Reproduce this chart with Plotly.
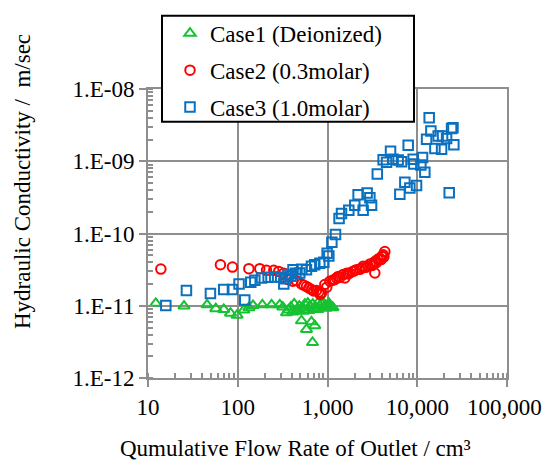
import plotly.graph_objects as go

# Case1 (Deionized)
case1_flow = [12.2, 25.2, 45.5, 56.9, 69.8, 83, 98.3, 117, 133, 148, 188, 238, 294, 318,
              349, 366, 390, 425, 455, 485, 513, 531, 559, 583, 603, 635, 663, 681, 686,
              721, 741, 780, 821, 865, 910, 958, 1009, 1062, 1118, 780, 700, 620, 540,
              470, 410, 880, 1040, 960, 1150]
case1_k = [1.08e-11, 0.99e-11, 1.03e-11, 9.1e-12, 8.9e-12, 7.9e-12, 7.4e-12, 8.7e-12,
           9.4e-12, 1.01e-11, 1.03e-11, 1.03e-11, 1.03e-11, 9.6e-12, 8.0e-12, 8.7e-12,
           9.6e-12, 1.06e-11, 8.5e-12, 9.9e-12, 6.2e-12, 9.3e-12, 1.05e-11, 4.7e-12,
           1.09e-11, 9.9e-12, 6.0e-12, 3.1e-12, 1.05e-11, 5.3e-12, 9.3e-12, 1.09e-11,
           9.9e-12, 1.05e-11, 9.6e-12, 1.01e-11, 9.6e-12, 9.9e-12, 9.6e-12, 8.9e-12,
           9.0e-12, 8.6e-12, 8.4e-12, 8.9e-12, 8.2e-12, 1.12e-11, 1.08e-11, 9.2e-12,
           9.4e-12]

# Case2 (0.3molar)
case2_flow = [13.9, 64.1, 87.3, 133, 176, 209, 252, 286, 326, 364, 410, 450, 513, 545,
              583, 620, 663, 700, 754, 800, 857, 830, 933, 982, 1062, 1146, 1259, 1371,
              1493, 1560, 1641, 1774, 1916, 2105, 2291, 2495, 2673, 2965, 3120, 3367,
              3367, 3640, 3830, 4034, 4170, 4355, 1200, 1320, 1700, 2000, 2400, 2800,
              3250, 3500, 3950, 4250]
case2_k = [3.22e-11, 3.70e-11, 3.43e-11, 3.26e-11, 3.26e-11, 3.09e-11, 3.09e-11, 2.99e-11,
           2.81e-11, 2.30e-11, 2.18e-11, 2.22e-11, 2.0e-11, 1.92e-11, 1.85e-11, 1.76e-11,
           1.68e-11, 1.60e-11, 1.63e-11, 1.55e-11, 1.51e-11, 1.43e-11, 1.97e-11, 1.81e-11,
           2.18e-11, 2.25e-11, 2.42e-11, 2.46e-11, 2.70e-11, 2.42e-11, 2.81e-11, 2.84e-11,
           2.99e-11, 3.16e-11, 3.19e-11, 3.51e-11, 3.40e-11, 3.77e-11, 3.60e-11, 4.10e-11,
           2.84e-11, 4.40e-11, 4.55e-11, 4.80e-11, 5.07e-11, 5.62e-11, 2.30e-11, 2.55e-11,
           2.75e-11, 3.05e-11, 3.30e-11, 3.55e-11, 3.75e-11, 3.95e-11, 4.35e-11, 4.75e-11]

# Case3 (1.0molar)
case3_flow = [15.8, 26.8, 49.6, 69.8, 87.3, 103.4, 119.7, 139.6, 155, 184, 218, 258, 301,
              326, 343, 364, 390, 413, 443, 491, 517, 583, 663, 721, 821, 910, 991, 1035,
              1118, 1228, 1346, 1432, 1727, 2014, 2193, 2495, 2763, 2965, 3095, 3589, 4170,
              4548, 5039, 5383, 6124, 6683, 6400, 7275, 7925, 8270, 9000, 9160, 9820,
              10970, 11450, 12150, 12700, 13580, 14190, 15730, 17100, 18670, 19150, 21230,
              22700, 24120, 25580, 25000]
case3_k = [1.01e-11, 1.63e-11, 1.48e-11, 1.68e-11, 1.68e-11, 2.0e-11, 1.20e-11, 2.11e-11,
           2.25e-11, 2.42e-11, 2.48e-11, 2.49e-11, 2.48e-11, 2.0e-11, 2.37e-11, 2.70e-11,
           2.56e-11, 3.16e-11, 2.81e-11, 2.84e-11, 3.19e-11, 3.16e-11, 3.51e-11, 3.70e-11,
           3.89e-11, 4.0e-11, 5.33e-11, 4.9e-11, 7.55e-11, 9.72e-11, 1.61e-10, 1.89e-10,
           2.10e-10, 2.46e-10, 3.44e-10, 2.10e-10, 3.63e-10, 3.13e-10, 2.46e-10, 6.67e-10,
           1.05e-09, 0.966e-09, 1.37e-09, 1.07e-09, 1.04e-09, 0.988e-09, 3.48e-10, 5.14e-10,
           1.67e-09, 4.25e-10, 1.07e-09, 0.916e-09, 4.63e-10, 0.89e-09, 1.13e-09, 7.04e-10,
           2.02e-09, 4.0e-09, 2.63e-09, 1.50e-09, 2.24e-09, 1.47e-09, 2.24e-09, 2.06e-09,
           3.66e-10, 2.83e-09, 1.69e-09, 2.9e-09]

x_tick_vals = [10, 100, 1000, 10000, 100000]
x_tick_text = ["10", "100", "1,000", "10,000", "100,000"]
y_tick_vals = [1e-12, 1e-11, 1e-10, 1e-9, 1e-8]
y_tick_text = ["1.E-12", "1.E-11", "1.E-10", "1.E-09", "1.E-08"]

FONT = "Liberation Serif, Times New Roman, serif"
GRID = "#8e8e8e"
LABEL_FONT = dict(family=FONT, size=23, color="black")

fig = go.Figure()
fig.add_trace(go.Scatter(
    x=case1_flow, y=case1_k, mode="markers", name="Case1 (Deionized)", legendgroup="c1",
    marker=dict(symbol="triangle-up-open", size=10, color="#16c232", line=dict(width=2)),
))
fig.add_trace(go.Scatter(
    x=case2_flow, y=case2_k, mode="markers", name="Case2 (0.3molar)", legendgroup="c2",
    marker=dict(symbol="circle-open", size=9.5, color="#ff0000", line=dict(width=2)),
))
fig.add_trace(go.Scatter(
    x=case3_flow, y=case3_k, mode="markers", name="Case3 (1.0molar)", legendgroup="c3",
    marker=dict(symbol="square-open", size=9.5, color="#0a70c0", line=dict(width=2)),
))

axis_common = dict(
    type="log",
    showgrid=True, gridcolor=GRID, gridwidth=2,
    showline=True, linecolor=GRID, linewidth=2, mirror=True,
    ticks="outside", ticklen=7, tickwidth=2, tickcolor=GRID,
    tickfont=LABEL_FONT,
    zeroline=False,
    minor=dict(ticks="inside", ticklen=5, tickwidth=1.5, tickcolor=GRID,
               dtick="D1", showgrid=False),
)

# the last x label sits at the right page edge, so it is placed as a free label
fig.update_xaxes(range=[1, 5], tickmode="array", tickvals=x_tick_vals,
                 ticktext=x_tick_text[:-1] + [""], **axis_common)
fig.update_yaxes(range=[-12, -8], tickmode="array", tickvals=y_tick_vals,
                 ticktext=y_tick_text, **axis_common)

fig.add_annotation(text=x_tick_text[-1], xref="x", yref="paper", x=5, y=0,
                   yshift=-29, xshift=-3, showarrow=False,
                   xanchor="center", yanchor="middle", font=LABEL_FONT)

# legend frame
fig.add_shape(type="rect", xref="paper", yref="paper",
              x0=(162 - 148) / 359, x1=(414 - 148) / 359,
              y0=(378 - 119) / 292, y1=(378 - 12) / 292,
              fillcolor="white", line=dict(color="black", width=2), layer="above")

fig.add_annotation(text="Qumulative Flow Rate of Outlet / cm³", xref="paper", yref="paper",
                   x=(295 - 148) / 359, y=(378 - 449) / 292, showarrow=False,
                   xanchor="center", yanchor="middle", font=LABEL_FONT)
fig.add_annotation(text="Hydraulic Conductivity /  m/sec", xref="paper", yref="paper",
                   x=(22 - 148) / 359, y=(378 - 180) / 292, showarrow=False, textangle=-90,
                   xanchor="center", yanchor="middle", font=LABEL_FONT)

fig.update_layout(
    width=543, height=461,
    margin=dict(l=148, r=36, t=86, b=83, pad=0),
    paper_bgcolor="white", plot_bgcolor="white",
    showlegend=True,
    legend=dict(
        x=(170 - 148) / 359, y=(378 - 8) / 292, xanchor="left", yanchor="top",
        bgcolor="rgba(0,0,0,0)", borderwidth=0, tracegroupgap=4,
        font=LABEL_FONT,
    ),
)

fig.write_html("out.html")
